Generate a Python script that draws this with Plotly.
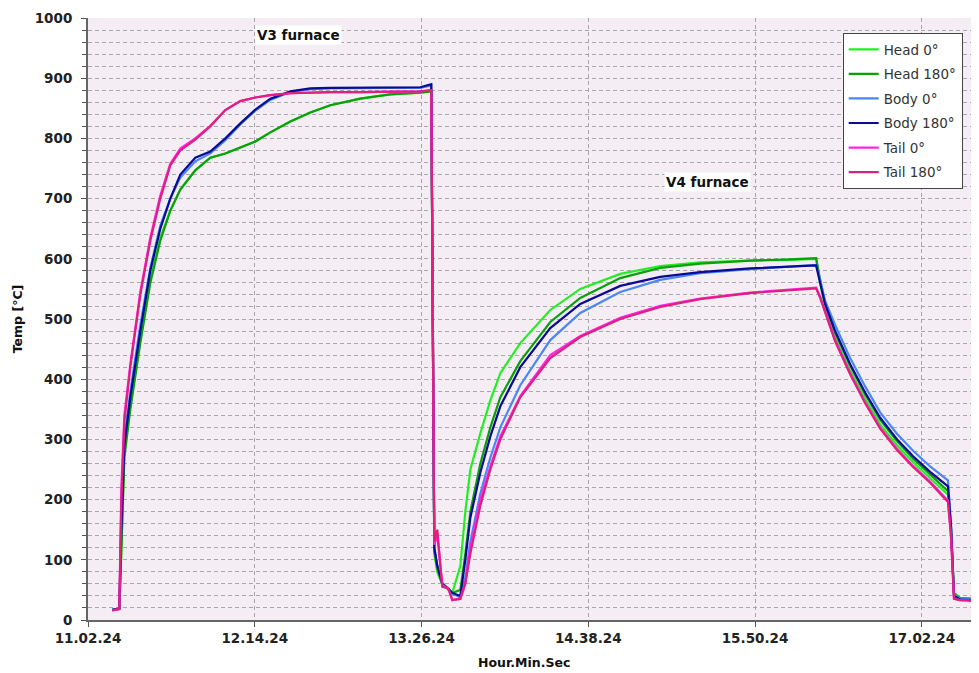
import plotly.graph_objects as go

# ---- data ----
TIMES = [
    "11:12:53", "11:15:55", "11:16:48", "11:18:06", "11:20:40", "11:24:59", "11:29:18",
    "11:33:37", "11:37:56", "11:42:15", "11:48:44", "11:55:13", "12:01:42", "12:08:10",
    "12:14:39", "12:21:08", "12:29:46", "12:38:24", "12:47:01", "12:59:58", "13:12:55",
    "13:25:52", "13:30:37", "13:31:55", "13:33:13", "13:35:23", "13:37:58", "13:39:42",
    "13:43:10", "13:45:19", "13:47:29", "13:51:48", "13:56:07", "14:00:26", "14:09:03",
    "14:22:00", "14:34:57", "14:52:13", "15:09:28", "15:26:44", "15:48:18", "16:05:34",
    "16:16:47", "16:18:31", "16:20:40", "16:24:59", "16:31:28", "16:37:56", "16:44:25",
    "16:51:45", "16:58:39", "17:05:59", "17:13:42", "17:15:00", "17:16:18", "17:18:53",
    "17:24:29",
]

head_0 = [
    17, 19, 110, 280, 355, 465, 565, 635, 680, 715, 747, 768, 775, 785,
    795, 810, 828, 843, 855, 866, 873,
    876, 878, 110, 80, 58, 50, 45,
    90, 180, 250, 310, 365, 410, 460,
    515, 550, 575, 588, 594, 597, 598,
    600, 560, 520, 470, 415, 367, 325,
    290, 262, 236, 208, 150, 45, 37,
    36,
]
head_180 = [
    17, 19, 120, 270, 350, 460, 560, 630, 680, 715, 747, 768, 775, 785,
    795, 810, 828, 843, 855, 866, 873,
    876, 878, 115, 85, 60, 52, 45,
    50, 110, 180, 260, 320, 370, 430,
    495, 535, 568, 585, 592, 597, 599,
    601, 565, 525, 478, 423, 375, 333,
    297, 268, 242, 214, 155, 44, 36,
    35,
]
body_0 = [
    17, 19, 170, 300, 380, 490, 585, 655, 700, 735, 762, 775, 797, 823,
    846, 864, 877, 882, 883, 884, 884,
    884, 888, 120, 90, 62, 52, 44,
    38, 70, 130, 210, 270, 320, 390,
    465, 510, 545, 565, 576, 583, 587,
    590, 565, 530, 490, 435, 388, 345,
    309, 281, 255, 232, 160, 42, 35,
    34,
]
body_180 = [
    17, 19, 150, 290, 370, 480, 580, 650, 700, 740, 768, 778, 800, 825,
    848, 866, 878, 883, 884, 884, 885,
    885, 890, 120, 90, 60, 52, 45,
    40, 100, 170, 245, 305, 355, 420,
    485, 525, 555, 570, 578, 584, 587,
    589, 560, 525, 480, 425, 378, 336,
    300, 272, 246, 222, 155, 40, 34,
    33,
]
tail_0 = [
    16, 18, 220, 340, 425, 545, 635, 705, 758, 783, 800, 821, 847, 862,
    868, 872, 875, 876, 877, 877, 877,
    878, 880, 125, 140, 58, 52, 33,
    36, 62, 120, 200, 255, 305, 372,
    440, 472, 502, 522, 534, 544, 549,
    552, 537, 512, 465, 410, 362, 320,
    284, 256, 230, 198, 140, 36, 33,
    32,
]
tail_180 = [
    16, 18, 200, 330, 420, 540, 630, 700, 755, 780, 798, 820, 847, 862,
    868, 872, 875, 876, 877, 877, 877,
    878, 880, 130, 150, 55, 53, 33,
    35, 60, 110, 190, 250, 300, 370,
    435, 470, 500, 520, 533, 543, 548,
    551, 535, 510, 463, 408, 360, 318,
    282, 254, 228, 196, 140, 35, 33,
    32,
]

SERIES = [
    ("Head 0°", head_0, "#22ee22"),
    ("Head 180°", head_180, "#0aa00a"),
    ("Body 0°", body_0, "#4a86f5"),
    ("Body 180°", body_180, "#0a0a96"),
    ("Tail 0°", tail_0, "#ff22ee"),
    ("Tail 180°", tail_180, "#e0207a"),
]

DAY = "2024-01-01 "
X = [DAY + t for t in TIMES]

fig = go.Figure()
for name, vals, color in SERIES:
    fig.add_trace(go.Scatter(
        x=X, y=vals, mode="lines", name=name, legendgroup=name,
        line=dict(color=color, width=2.2),
    ))

font_family = "DejaVu Sans"

fig.add_annotation(x=DAY + "12:33:12", y=972, text="<b>V3 furnace</b>", showarrow=False,
                   bgcolor="white", font=dict(family=font_family, size=13.5, color="#111"))
fig.add_annotation(x=DAY + "15:29:42", y=728, text="<b>V4 furnace</b>", showarrow=False,
                   bgcolor="white", font=dict(family=font_family, size=13.5, color="#111"))
# x-axis title (placed as in the reference, slightly left of centre)
fig.add_annotation(xref="paper", yref="paper", x=0.489, y=-0.07, yanchor="middle",
                   text="<b>Hour.Min.Sec</b>", showarrow=False,
                   font=dict(family=font_family, size=12.5, color="#111"))

fig.update_layout(
    width=971, height=665,
    margin=dict(l=80, r=0, t=10, b=53),
    paper_bgcolor="white",
    plot_bgcolor="#f4eef4",
    font=dict(family=font_family, color="#222"),
    showlegend=True,
    legend=dict(
        x=0.847, y=0.975, xanchor="left", yanchor="top",
        bgcolor="white", bordercolor="#444", borderwidth=1,
        font=dict(family=font_family, size=13.5, color="#333"),
        tracegroupgap=4, itemwidth=30,
    ),
    xaxis=dict(
        type="date", automargin=False,
        range=[DAY + "11:02:24", DAY + "17:27:06"],
        tick0=DAY + "11:02:24", dtick=72 * 60 * 1000,
        tickformat="%H.%M.%S",
        tickfont=dict(family=font_family, size=13.5, color="#222", weight="bold"),
        ticks="outside", ticklen=5, tickcolor="#555",
        showline=True, linecolor="#666", linewidth=2,
        showgrid=True, gridcolor="#a8a8a8", griddash="4px,3px", gridwidth=1,
        zeroline=False,
    ),
    yaxis=dict(
        range=[0, 1000], dtick=100, tick0=0, automargin=False,
        tickfont=dict(family=font_family, size=13.5, color="#222", weight="bold"),
        ticks="outside", ticklen=5, tickcolor="#555", ticklabelstandoff=6,
        showline=True, linecolor="#666", linewidth=2,
        showgrid=True, gridcolor="#a8a8a8", griddash="4px,3px", gridwidth=1,
        zeroline=False,
        minor=dict(dtick=20, showgrid=True, gridcolor="#a8a8a8", griddash="4px,3px",
                   ticks="outside", ticklen=4, tickcolor="#555"),
        title=dict(text="<b>Temp [°C]</b>", font=dict(family=font_family, size=12.5, color="#111"),
                   standoff=9),
    ),
)

fig.write_html("out.html")
